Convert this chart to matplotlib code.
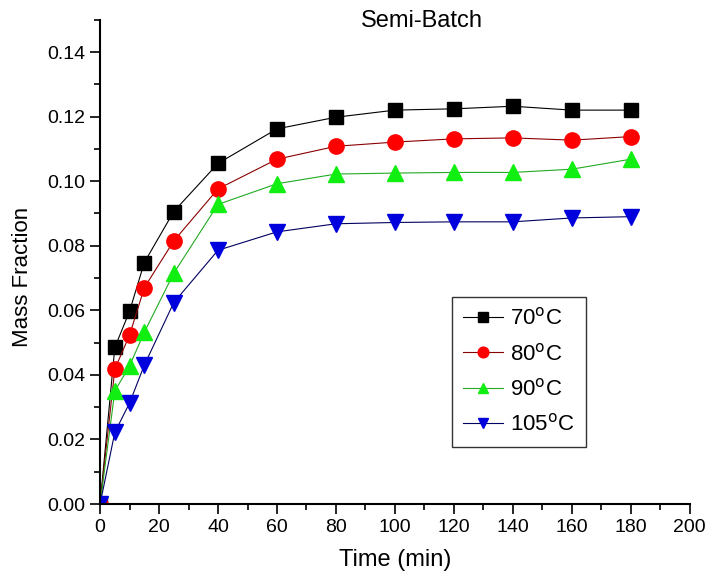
import matplotlib.pyplot as plt
from matplotlib.ticker import MultipleLocator

plt.rcParams['font.family'] = ['Liberation Sans', 'DejaVu Sans']

time = [0, 5, 10, 15, 25, 40, 60, 80, 100, 120, 140, 160, 180]
t70 = [0.0, 0.0485, 0.0597, 0.0748, 0.0906, 0.1055, 0.1162, 0.1198, 0.1220, 0.1224, 0.1232, 0.1220, 0.1220]
t80 = [0.0, 0.0418, 0.0523, 0.0670, 0.0815, 0.0976, 0.1068, 0.1108, 0.1121, 0.1131, 0.1134, 0.1127, 0.1138]
t90 = [0.0, 0.0350, 0.0428, 0.0532, 0.0715, 0.0928, 0.0992, 0.1022, 0.1025, 0.1027, 0.1027, 0.1037, 0.1068]
t105 = [0.0, 0.0222, 0.0313, 0.0430, 0.0624, 0.0786, 0.0843, 0.0868, 0.0872, 0.0874, 0.0874, 0.0886, 0.0890]
labels = ['70$^\\mathrm{o}$C', '80$^\\mathrm{o}$C', '90$^\\mathrm{o}$C', '105$^\\mathrm{o}$C']

fig = plt.figure(figsize=(7.2, 5.8), dpi=100)
ax = fig.add_axes([0.139, 0.131, 0.819, 0.835])

ax.plot(time, t70, color='black', lw=0.8, marker='s', ms=10, mfc='black', mec='black', label=labels[0])
ax.plot(time, t80, color='#8b0000', lw=0.8, marker='o', ms=11, mfc='red', mec='red', label=labels[1])
ax.plot(time, t90, color='#22aa22', lw=0.8, marker='^', ms=11, mfc='#11ee11', mec='#11ee11', label=labels[2])
ax.plot(time, t105, color='#000060', lw=0.8, marker='v', ms=11, mfc='#0000dd', mec='#0000dd', label=labels[3])

ax.set_xlim(0, 200)
ax.set_ylim(0, 0.15)
ax.xaxis.set_major_locator(MultipleLocator(20))
ax.xaxis.set_minor_locator(MultipleLocator(10))
ax.yaxis.set_major_locator(MultipleLocator(0.02))
ax.yaxis.set_minor_locator(MultipleLocator(0.01))
ax.yaxis.set_major_formatter(plt.FormatStrFormatter('%.2f'))
ax.tick_params(which='major', direction='out', length=7, width=1.2, labelsize=14)
ax.tick_params(which='minor', direction='out', length=4, width=1.2)
for s in ['top', 'right']:
    ax.spines[s].set_visible(False)
for s in ['left', 'bottom']:
    ax.spines[s].set_linewidth(1.5)
ax.set_clip_on(False)

ax.set_xlabel('Time (min)', fontsize=17, labelpad=10)
fig.text(0.031, 0.522, 'Mass Fraction', rotation=90, fontsize=16, ha='center', va='center')
fig.text(0.586, 0.963, 'Semi-Batch', fontsize=17, ha='center', va='center')

leg = ax.legend(loc='upper left', bbox_to_anchor=(0.597, 0.428), borderaxespad=0, fontsize=16,
                frameon=True, fancybox=False, edgecolor='black', handlelength=1.8,
                handletextpad=0.3, borderpad=0.5, labelspacing=0.6, markerscale=0.7)
leg.get_frame().set_linewidth(1.0)

fig.savefig('out.png', dpi=100)
